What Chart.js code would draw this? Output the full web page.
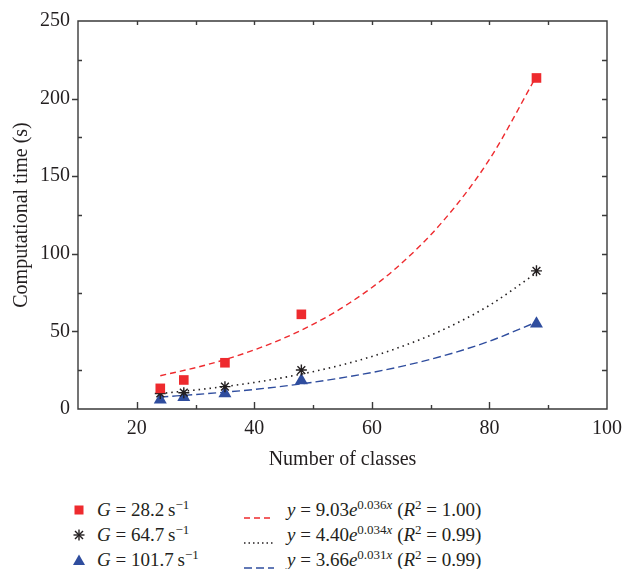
<!DOCTYPE html>
<html><head><meta charset="utf-8">
<script src="https://cdn.jsdelivr.net/npm/chart.js@4"></script>
<style>
html,body{margin:0;padding:0;background:#fff;}
body{width:623px;height:569px;position:relative;overflow:hidden;font-family:"Liberation Serif","DejaVu Serif",serif;color:#231f20;}
#wrap{position:absolute;left:0;top:0;width:623px;height:480px;}
.leg{position:absolute;font-size:19px;line-height:22px;white-space:nowrap;color:#231f20;}
.leg sup{font-size:13px;vertical-align:0;position:relative;top:-7px;}
.sym{position:absolute;}
</style>
</head><body>
<div id="wrap"><canvas id="c" width="623" height="480"></canvas></div>
<div id="legend"></div>
<script>
// ---- data ----
const classes = [24, 28, 35, 48, 88];
const timeG28 = [13.3, 18.7, 29.8, 61, 213.3];
const timeG65 = [10, 10.5, 14.4, 25.1, 89];
const timeG102 = [6, 7.5, 10, 18.4, 55];
const fitX = [24, 32, 40, 48, 56, 64, 72, 80, 88];
const fitG28 = [21.4, 28.6, 38.1, 50.8, 67.8, 90.4, 120.6, 160.8, 214.5];
const fitG65 = [9.95, 13.1, 17.1, 22.5, 29.5, 38.8, 50.9, 66.8, 87.7];
const fitG102 = [7.7, 9.9, 12.6, 16.2, 20.8, 26.6, 34.1, 43.7, 56.0];
const xTicks = [20, 40, 60, 80, 100];
const yTicks = [0, 50, 100, 150, 200, 250];
const seriesLabels = ['G = 28.2 s\u207B\u00B9', 'G = 64.7 s\u207B\u00B9', 'G = 101.7 s\u207B\u00B9'];
const fitLabels = ['y = 9.03e^{0.036x} (R^2 = 1.00)', 'y = 4.40e^{0.034x} (R^2 = 0.99)', 'y = 3.66e^{0.031x} (R^2 = 0.99)'];

const RED = '#ee2a2e', BLACK = '#231f20', BLUE = '#2f4d9e', AXIS = '#3a3a3a';
const FONT = {family: '"Liberation Serif", "DejaVu Serif", serif', size: 20};

const pts = (xs, ys) => xs.map((x, i) => ({x, y: ys[i]}));

const frameTicks = {
  id: 'frameTicks',
  afterDraw(chart) {
    const {ctx, chartArea: a, scales: {x, y}} = chart;
    ctx.save();
    ctx.strokeStyle = AXIS;
    ctx.lineWidth = 1.4;
    ctx.beginPath();
    ctx.rect(a.left, a.top, a.right - a.left, a.bottom - a.top);
    ctx.stroke();
    ctx.beginPath();
    x.ticks.forEach(t => {
      const px = Math.round(x.getPixelForValue(t.value)) + 0.5;
      const major = xTicks.includes(t.value);
      if (t.value === x.min || t.value === x.max) return;
      ctx.moveTo(px, a.bottom); ctx.lineTo(px, a.bottom - (major ? 7 : 4));
      ctx.moveTo(px, a.top); ctx.lineTo(px, a.top + 4);
    });
    y.ticks.forEach(t => {
      const py = Math.round(y.getPixelForValue(t.value)) + 0.5;
      const major = yTicks.includes(t.value);
      if (t.value === y.min || t.value === y.max) return;
      if (major) { ctx.moveTo(a.left, py); ctx.lineTo(a.left - 6, py); }
      else { ctx.moveTo(a.left, py); ctx.lineTo(a.left + 4, py); }
      ctx.moveTo(a.right, py); ctx.lineTo(a.right - 5, py);
    });
    ctx.stroke();
    ctx.restore();
  }
};

new Chart(document.getElementById('c'), {
  type: 'scatter',
  data: {
    datasets: [
      {label: seriesLabels[0], data: pts(classes, timeG28), pointStyle: 'rect', pointRadius: 6.8, backgroundColor: RED, borderColor: RED, borderWidth: 0, order: 0},
      {label: seriesLabels[1], data: pts(classes, timeG65), pointStyle: 'star', pointRadius: 5.5, backgroundColor: BLACK, borderColor: BLACK, borderWidth: 1.4, order: 0},
      {label: seriesLabels[2], data: pts(classes, timeG102), pointStyle: 'triangle', pointRadius: 7.5, backgroundColor: BLUE, borderColor: BLUE, borderWidth: 0, order: 0},
      {label: fitLabels[0], data: pts(fitX, fitG28), showLine: true, pointRadius: 0, borderColor: RED, borderWidth: 1.4, borderDash: [6, 4], cubicInterpolationMode: 'monotone', order: 1},
      {label: fitLabels[1], data: pts(fitX, fitG65), showLine: true, pointRadius: 0, borderColor: BLACK, borderWidth: 1.6, borderDash: [1.5, 4], cubicInterpolationMode: 'monotone', order: 1},
      {label: fitLabels[2], data: pts(fitX, fitG102), showLine: true, pointRadius: 0, borderColor: BLUE, borderWidth: 1.4, borderDash: [8, 4], cubicInterpolationMode: 'monotone', order: 1}
    ]
  },
  options: {
    responsive: false, animation: false, devicePixelRatio: 1,
    layout: {padding: {left: 0, right: 16, top: 21, bottom: 0}},
    plugins: {legend: {display: false}, tooltip: {enabled: false}},
    scales: {
      x: {
        type: 'linear', min: 10, max: 100,
        grid: {display: false, drawTicks: false}, border: {display: false},
        ticks: {stepSize: 10, autoSkip: false, maxRotation: 0, padding: 8, color: BLACK, font: FONT,
          callback: v => xTicks.includes(v) ? String(v) : ''},
        title: {display: true, text: 'Number of classes', color: BLACK, font: FONT, padding: {top: 0, bottom: 8}},
        afterFit: s => { s.height = 71; s.paddingLeft = 0; s.paddingRight = 0; }
      },
      y: {
        type: 'linear', min: 0, max: 250,
        grid: {display: false, drawTicks: false}, border: {display: false},
        ticks: {stepSize: 25, autoSkip: false, padding: 8, color: BLACK, font: FONT,
          callback: v => yTicks.includes(v) ? String(v) : ''},
        title: {display: true, text: 'Computational time (s)', color: BLACK, font: FONT, padding: {top: 10, bottom: 0}},
        afterFit: s => { s.width = 78; s.paddingTop = 0; s.paddingBottom = 0; }
      }
    }
  },
  plugins: [frameTicks]
});

// ---- HTML legend (formatted text) ----
function fmtSeries(s) {
  const m = s.match(/^G = ([\d.]+) s/);
  return '<i>G</i> = ' + m[1] + '\u2009s<sup>\u22121</sup>';
}
function fmtFit(s) {
  const m = s.match(/^y = ([\d.]+)e\^\{([\d.]+)x\} \(R\^2 = ([\d.]+)\)/);
  return '<i>y</i> = ' + m[1] + '<i>e</i><sup>' + m[2] + '<i>x</i></sup> (<i>R</i><sup>2</sup> = ' + m[3] + ')';
}
const legend = document.getElementById('legend');
const rowY = [510, 535, 560];
const colors = [RED, BLACK, BLUE];
const symSvg = [
  '<svg width="14" height="14"><rect x="2.5" y="2.5" width="9" height="9" fill="' + RED + '"/></svg>',
  '<svg width="14" height="14"><g stroke="' + BLACK + '" stroke-width="1.4"><line x1="7" y1="1.5" x2="7" y2="12.5"/><line x1="1.5" y1="7" x2="12.5" y2="7"/><line x1="3" y1="3" x2="11" y2="11"/><line x1="11" y1="3" x2="3" y2="11"/></g></svg>',
  '<svg width="14" height="14"><polygon points="7,1.5 13,12 1,12" fill="' + BLUE + '"/></svg>'
];
const dashes = ['6 4', '1.5 3', '8 4'];
for (let i = 0; i < 3; i++) {
  const cy = rowY[i];
  legend.insertAdjacentHTML('beforeend',
    '<div class="sym" style="left:72px;top:' + (cy - 7) + 'px">' + symSvg[i] + '</div>' +
    '<div class="leg" style="left:97px;top:' + (cy - 11) + 'px">' + fmtSeries(seriesLabels[i]) + '</div>' +
    '<div class="sym" style="left:243px;top:' + (cy - 3) + 'px"><svg width="32" height="6"><line x1="1" y1="3" x2="31" y2="3" stroke="' + colors[i] + '" stroke-width="1.3" stroke-dasharray="' + dashes[i] + '"/></svg></div>' +
    '<div class="leg" style="left:287px;top:' + (cy - 11) + 'px">' + fmtFit(fitLabels[i]) + '</div>');
}
</script>
</body></html>
